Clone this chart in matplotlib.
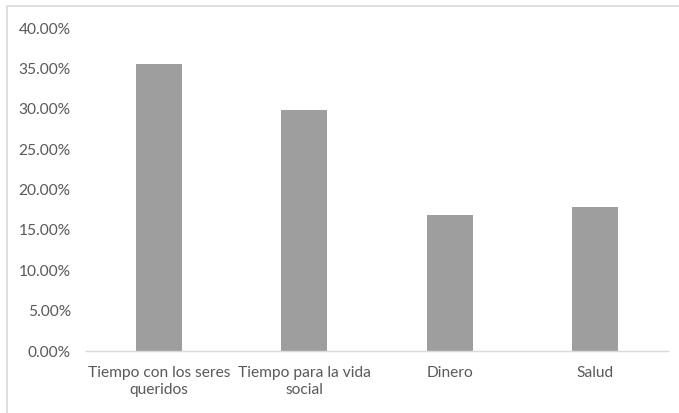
import matplotlib
matplotlib.use("Agg")
import matplotlib.pyplot as plt
from matplotlib.patches import Rectangle
from matplotlib.ticker import FuncFormatter, MultipleLocator

# categories and shares (fractions)
categorias = ["Tiempo con los seres\nqueridos", "Tiempo para la vida\nsocial", "Dinero", "Salud"]
valores = [0.356, 0.299, 0.169, 0.178]

plt.rcParams["font.family"] = ["Lato", "DejaVu Sans"]
txt = "#595959"

fig = plt.figure(figsize=(6.79, 4.13), dpi=100)
ax = fig.add_axes([0.1267, 0.150, 0.857, 0.782])

x = list(range(len(categorias)))
ax.bar(x, valores, width=0.316, color="#9E9E9E", zorder=2)

ax.set_xlim(-0.5, len(categorias) - 0.5)
ax.set_ylim(0, 0.40)
ax.yaxis.set_major_locator(MultipleLocator(0.05))
ax.yaxis.set_major_formatter(FuncFormatter(lambda v, p: f"{v * 100:.2f}%"))
ax.set_xticks(x)
ax.set_xticklabels(categorias, linespacing=1.25)

for s in ["top", "right", "left"]:
    ax.spines[s].set_visible(False)
ax.spines["bottom"].set_color("#D9D9D9")
ax.spines["bottom"].set_linewidth(1)
ax.tick_params(axis="both", length=0, colors=txt, labelsize=11.2)
ax.tick_params(axis="y", pad=11)
ax.tick_params(axis="x", pad=11)

# chart area border
fig.patches.append(Rectangle((7 / 679, -0.05), 1.0, 1 - 6 / 413 + 0.05,
                             transform=fig.transFigure, fill=False,
                             edgecolor="#D9D9D9", linewidth=1.2))

fig.savefig("out.png", dpi=100)
